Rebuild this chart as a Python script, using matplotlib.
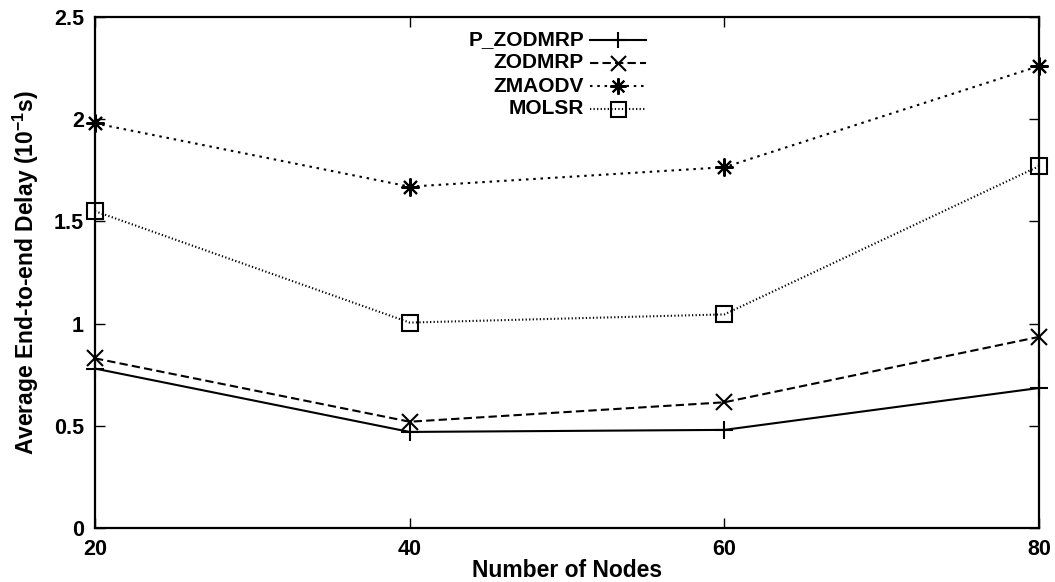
import matplotlib
matplotlib.use("Agg")
import matplotlib.pyplot as plt
from matplotlib.lines import Line2D

nodes = [20, 40, 60, 80]
p_zodmrp = [0.78, 0.47, 0.48, 0.685]
zodmrp = [0.83, 0.52, 0.615, 0.935]
zmaodv = [1.98, 1.67, 1.765, 2.26]
molsr = [1.55, 1.005, 1.045, 1.77]
series_names = ['P_ZODMRP', 'ZODMRP', 'ZMAODV', 'MOLSR']
x_ticks = [20, 40, 60, 80]
y_ticks = [0, 0.5, 1, 1.5, 2, 2.5]
y_tick_labels = ["0", "0.5", "1", "1.5", "2", "2.5"]

plt.rcParams['font.family'] = ['Liberation Sans', 'DejaVu Sans']
plt.rcParams['font.weight'] = 'bold'
plt.rcParams['mathtext.fontset'] = 'custom'
plt.rcParams['mathtext.rm'] = 'Liberation Sans:bold'
plt.rcParams['mathtext.bf'] = 'Liberation Sans:bold'
plt.rcParams['mathtext.default'] = 'bf'

W, H = 1055, 582
L, R, T, B = 95, 1039, 17, 528
fig = plt.figure(figsize=(W/100, H/100), dpi=100)
ax = fig.add_axes([L/W, 1 - B/H, (R-L)/W, (B-T)/H])

styles = [
    dict(ls='-', marker='+', ms=13),
    dict(ls=(0, (4, 2)), marker='x', ms=12),
    dict(ls=(0, (1.2, 2.3)), marker=(8, 2, 0), ms=13),
    dict(ls=(0, (0.6, 1.1)), marker='s', ms=12),
]
data = [p_zodmrp, zodmrp, zmaodv, molsr]
lw = 1.5
for vals, st, name in zip(data, styles, series_names):
    ax.plot(nodes, vals, color='black', lw=lw, mew=1.5, mfc='none', label=name,
            clip_on=False, zorder=3, **st)

ax.set_xlim(20, 80)
ax.set_ylim(0, 2.5)
ax.set_xticks(x_ticks)
ax.set_yticks(y_ticks)
ax.set_yticklabels(y_tick_labels)
ax.tick_params(direction='in', length=7, width=1, top=True, right=True, labelsize=15.5, pad=8)
for lab in ax.get_xticklabels() + ax.get_yticklabels():
    lab.set_fontweight('bold')
for s in ax.spines.values():
    s.set_linewidth(1.6)

ax.set_xlabel('Number of Nodes', fontsize=16.5, fontweight='bold', labelpad=-1)
ax.set_ylabel('Average End-to-end Delay (10$^{-1}$s)', fontsize=16.5, fontweight='bold', labelpad=9)

# Manual key (gnuplot style: label right-aligned, sample to the right)
def fx(px):
    return (px - L) / (R - L)
def fy(py):
    return (B - py) / (B - T)

text_right = 584
line_x0, line_x1 = 590, 646
row_y = [40, 63, 86, 109]
for name, st, py in zip(series_names, styles, row_y):
    ax.text(fx(text_right), fy(py), name, transform=ax.transAxes, ha='right', va='center',
            fontsize=15, fontweight='bold')
    ax.add_line(Line2D([fx(line_x0), fx(line_x1)], [fy(py), fy(py)], transform=ax.transAxes,
                       color='black', lw=lw, ls=st['ls']))
    ax.add_line(Line2D([fx((line_x0 + line_x1) / 2)], [fy(py)], transform=ax.transAxes,
                       color='black', ls='none', marker=st['marker'], ms=st['ms'] * 0.9,
                       mew=1.5, mfc='none'))

fig.savefig('out.png', dpi=100)
